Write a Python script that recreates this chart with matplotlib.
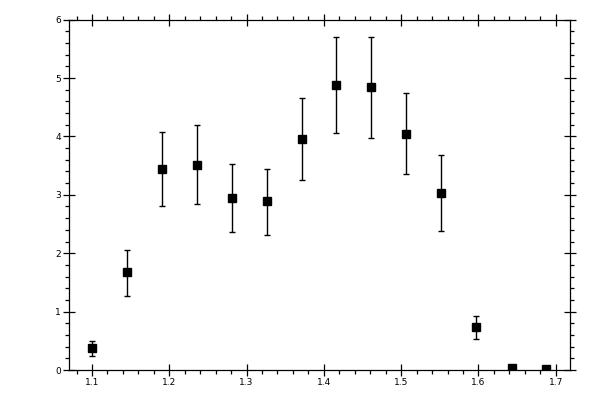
import matplotlib
matplotlib.use('Agg')
from matplotlib import pyplot as plt
from matplotlib.ticker import MultipleLocator, FormatStrFormatter
import numpy as np

# data
xx = [1.100, 1.145, 1.191, 1.236, 1.281, 1.327, 1.372, 1.416, 1.461, 1.506, 1.552, 1.597, 1.643, 1.687]
yy = [0.37, 1.67, 3.44, 3.51, 2.94, 2.89, 3.95, 4.88, 4.84, 4.04, 3.03, 0.73, 0.03, 0.01]
err_lo = [0.13, 0.41, 0.63, 0.67, 0.58, 0.57, 0.69, 0.82, 0.86, 0.69, 0.65, 0.20, 0.0, 0.0]
err_hi = [0.12, 0.39, 0.63, 0.68, 0.58, 0.55, 0.70, 0.83, 0.87, 0.70, 0.65, 0.19, 0.0, 0.0]

fig = plt.figure(figsize=(6, 4), dpi=100)
ax = fig.add_axes([0.1155, 0.075, 0.8345, 0.876])

ax.errorbar(xx, yy, yerr=[err_lo, err_hi], fmt='s', color='black',
            markersize=5.5, elinewidth=1.0, capsize=2.5, capthick=1.0)

ax.set_xlim(1.0706, 1.7185)
ax.set_ylim(0, 6)

ax.xaxis.set_major_locator(MultipleLocator(0.1))
ax.xaxis.set_minor_locator(MultipleLocator(0.02))
ax.yaxis.set_major_locator(MultipleLocator(1))
ax.yaxis.set_minor_locator(MultipleLocator(0.2))
ax.xaxis.set_major_formatter(FormatStrFormatter('%.1f'))
ax.yaxis.set_major_formatter(FormatStrFormatter('%d'))

ax.tick_params(which='major', direction='inout', length=8, width=0.9,
               top=True, right=True, labelsize=6.5, pad=2)
ax.tick_params(which='minor', direction='out', length=3, width=0.9,
               top=True, right=True)
for s in ax.spines.values():
    s.set_linewidth(0.9)

fig.savefig('out.png', dpi=100)
